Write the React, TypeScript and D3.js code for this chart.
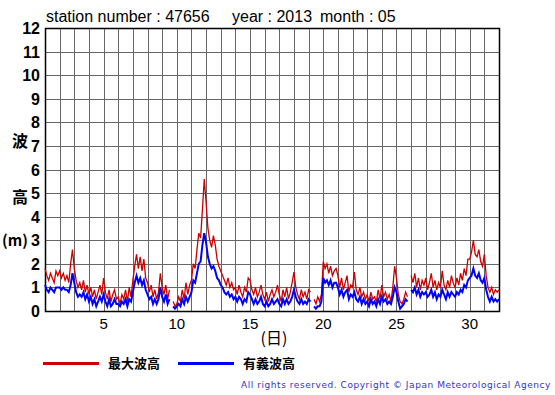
import React from "react";
import * as d3 from "d3";

// 3-hourly values, 8 per day, days 1..31 (null = missing)
const maxWave: (number | null)[] = [
  1.8, 1.5, 1.3, 1.6, 1.4, 1.2, 1.7, 1.5,
  1.7, 1.4, 1.6, 1.3, 1.5, 1.2, 2.0, 2.6,
  1.8, 1.3, 1.0, 1.2, 0.9, 1.3, 0.8, 1.1,
  0.7, 1.0, 0.6, 0.9, 0.5, 0.8, 1.1, 0.7,
  1.4, 0.8, 0.5, 0.9, 0.4, 0.7, 0.9, 0.5,
  0.6, 0.3, 0.7, 0.5, 0.9, 0.4, 1.0, 0.6,
  1.3, 1.9, 2.4, 1.8, 2.3, 1.7, 2.2, 1.4,
  1.2, 0.8, 1.1, 0.6, 0.9, 0.5, 0.8, 1.6,
  1.0, 0.7, 1.1, 0.5, 0.9, null, 0.4, 0.2,
  0.3, 0.6, 0.4, 0.9, 0.5, 1.2, 0.7, 1.1,
  1.3, 2.0, 1.8, 2.6, 3.3, 3.1, 4.3, 5.6,
  4.6, 3.5, 3.0, 2.7, 3.2, 2.8, 2.2, 1.9,
  1.7, 1.5, 1.3, 1.1, 1.4, 1.0, 1.2, 0.9,
  1.0, 0.7, 1.1, 0.8, 0.6, 1.0, 0.8, 1.4,
  1.3, 0.9, 0.7, 1.0, 0.6, 0.8, 1.1, 0.7,
  0.5, 0.8, 0.4, 0.7, 0.9, 0.6, 0.8, 1.1,
  0.7, 0.4, 0.9, 0.6, 1.0, 0.5, 0.8, 1.2,
  1.65, 1.0, 0.7, 0.5, 0.9, 0.6, 0.8, 0.5,
  0.9, 0.8, null, 0.5, 0.3, 0.6, 0.4, 0.7,
  2.1, 1.8, 2.0, 1.6, 1.9, 1.5, 1.7, 1.8,
  1.5, 1.0, 1.4, 0.9, 1.2, 1.5, 0.8, 1.1,
  1.0, 1.65, 0.9, 0.7, 1.0, 0.6, 0.8, 0.5,
  0.7, 0.4, 0.8, 0.5, 0.6, 0.4, 0.9, 0.5,
  1.1, 0.6, 0.8, 0.5, 0.7, 0.4, 1.0, 1.9,
  1.4, 0.7, 0.4, 0.3, 0.5, 0.8, 0.6, null,
  1.5, 1.2, 1.6, 1.0, 1.4, 0.9, 1.3, 1.1,
  1.4, 0.9, 1.2, 1.6, 1.0, 1.3, 0.9, 1.2,
  1.0, 1.7, 1.1, 0.9, 1.3, 1.0, 1.5, 1.2,
  1.0, 1.4, 1.1, 1.6, 1.3, 1.8, 1.5, 2.2,
  2.2, 2.5, 3.0, 2.4, 2.3, 2.6, 2.1, 1.9,
  2.4, 1.5, 1.0, 0.8, 1.0, 0.7, 0.9, 0.8,
  0.9,
];

const sigWave: (number | null)[] = [
  1.1, 0.9, 0.8, 1.0, 0.9, 0.8, 1.0, 1.0,
  1.0, 0.9, 1.0, 0.9, 0.9, 0.8, 1.1, 1.6,
  1.2, 0.8, 0.6, 0.7, 0.6, 0.8, 0.5, 0.7,
  0.4, 0.6, 0.3, 0.5, 0.2, 0.4, 0.6, 0.4,
  0.7, 0.4, 0.2, 0.5, 0.2, 0.3, 0.5, 0.3,
  0.3, 0.2, 0.4, 0.3, 0.5, 0.2, 0.5, 0.4,
  0.8, 1.2, 1.5, 1.2, 1.4, 1.1, 1.3, 0.9,
  0.7, 0.5, 0.6, 0.3, 0.5, 0.3, 0.5, 1.0,
  0.6, 0.4, 0.7, 0.3, 0.5, null, 0.2, 0.1,
  0.2, 0.3, 0.2, 0.5, 0.3, 0.6, 0.4, 0.6,
  0.8, 1.3, 1.2, 1.6, 2.0, 2.1, 2.8, 3.3,
  2.9, 2.3, 2.0, 1.8, 1.9, 1.7, 1.4, 1.3,
  1.1, 1.0, 0.8, 0.7, 0.8, 0.6, 0.7, 0.5,
  0.6, 0.4, 0.6, 0.5, 0.3, 0.5, 0.4, 0.8,
  0.7, 0.5, 0.3, 0.5, 0.3, 0.4, 0.6, 0.3,
  0.2, 0.4, 0.2, 0.3, 0.5, 0.3, 0.4, 0.5,
  0.3, 0.2, 0.5, 0.3, 0.5, 0.3, 0.4, 0.6,
  0.9, 0.6, 0.4, 0.3, 0.5, 0.3, 0.4, 0.3,
  0.5, 0.4, null, 0.2, 0.1, 0.2, 0.2, 0.4,
  1.4, 1.2, 1.3, 1.1, 1.3, 1.0, 1.2, 1.2,
  1.0, 0.7, 0.9, 0.6, 0.8, 0.9, 0.5, 0.7,
  0.6, 0.8, 0.5, 0.4, 0.6, 0.3, 0.5, 0.3,
  0.4, 0.2, 0.5, 0.3, 0.4, 0.2, 0.5, 0.3,
  0.6, 0.4, 0.5, 0.3, 0.4, 0.3, 0.6, 1.0,
  0.8, 0.4, 0.1, 0.2, 0.3, 0.5, 0.4, null,
  0.9, 0.8, 1.0, 0.7, 0.9, 0.6, 0.8, 0.7,
  0.8, 0.6, 0.7, 0.9, 0.6, 0.8, 0.5, 0.7,
  0.6, 0.9, 0.7, 0.5, 0.8, 0.6, 0.8, 0.7,
  0.6, 0.8, 0.7, 0.9, 0.8, 1.1, 1.0, 1.3,
  1.4, 1.5, 1.8, 1.5, 1.4, 1.6, 1.3, 1.2,
  1.4, 0.9, 0.6, 0.4, 0.6, 0.4, 0.5, 0.4,
  0.5,
];

const yTicks = [0, 1, 2, 3, 4, 5, 6, 7, 8, 9, 10, 11, 12];
const xTickLabels = [5, 10, 15, 20, 25, 30];
const dayLines = d3.range(1, 33);
const titleParts = ["station number : 47656", "year : 2013", "month : 05"];
const legendItems = [
  { label: "最大波高", color: "#cc0000" },
  { label: "有義波高", color: "#0000ff" },
];
const stepsPerDay = 8;

export default function App() {
  const left = 45, right = 499, top = 28, bottom = 311;
  const x = d3.scaleLinear().domain([1, 32]).range([left, right]);
  const y = d3.scaleLinear().domain([0, 12]).range([bottom, top]);

  const toPts = (arr: (number | null)[]) =>
    arr.map((v, i) => ({ t: 1 + i / stepsPerDay, v }));
  const line = d3
    .line<{ t: number; v: number | null }>()
    .defined((d) => d.v !== null)
    .x((d) => x(d.t))
    .y((d) => y(d.v as number));

  const sans = "'Liberation Sans', Arial, Helvetica, sans-serif";
  const cjk = "'Noto Sans CJK JP', sans-serif";

  return (
    <svg
      width={555}
      height={395}
      style={{ position: "absolute", left: 0, top: 0, background: "#fff" }}
    >
      {/* grid */}
      {dayLines.map((d) => (
        <line
          key={"v" + d}
          x1={Math.round(x(d)) + 0.5}
          x2={Math.round(x(d)) + 0.5}
          y1={top}
          y2={bottom}
          stroke="#666"
          strokeWidth={1}
        />
      ))}
      {yTicks.map((t) => (
        <line
          key={"h" + t}
          x1={left}
          x2={right}
          y1={Math.round(y(t)) + 0.5}
          y2={Math.round(y(t)) + 0.5}
          stroke="#666"
          strokeWidth={1}
        />
      ))}
      <rect
        x={left + 0.5}
        y={top + 0.5}
        width={right - left}
        height={bottom - top}
        fill="none"
        stroke="#000"
        strokeWidth={1.5}
      />

      {/* data */}
      <path d={line(toPts(maxWave)) || ""} fill="none" stroke="#cc0000" strokeWidth={1.3} />
      <path d={line(toPts(sigWave)) || ""} fill="none" stroke="#0000ff" strokeWidth={2} />

      {/* y tick labels */}
      {yTicks.map((t) => (
        <text
          key={"yl" + t}
          x={40}
          y={y(t) + 6}
          textAnchor="end"
          fontFamily={sans}
          fontWeight="bold"
          fontSize={16}
        >
          {t}
        </text>
      ))}
      {/* x tick labels */}
      {xTickLabels.map((t) => (
        <text
          key={"xl" + t}
          x={x(t)}
          y={329}
          textAnchor="middle"
          fontFamily={sans}
          fontSize={15}
        >
          {t}
        </text>
      ))}
      <text x={274} y={344} textAnchor="middle" fontFamily={cjk} fontSize={16}>
        (日)
      </text>

      {/* y axis title */}
      <text x={12} y={147} fontFamily={cjk} fontWeight="bold" fontSize={16}>波</text>
      <text x={12} y={203} fontFamily={cjk} fontWeight="bold" fontSize={16}>高</text>
      <text x={2} y={246} fontFamily={cjk} fontWeight="bold" fontSize={15}>(m)</text>

      {/* title */}
      <text x={46} y={22} fontFamily={sans} fontSize={16}>{titleParts[0]}</text>
      <text x={232} y={22} fontFamily={sans} fontSize={16}>{titleParts[1]}</text>
      <text x={320} y={22} fontFamily={sans} fontSize={16}>{titleParts[2]}</text>

      {/* legend */}
      {legendItems.map((it, i) => (
        <g key={it.label} transform={`translate(${43 + i * 135},0)`}>
          <line x1={0} x2={56} y1={363.5} y2={363.5} stroke={it.color} strokeWidth={3} />
          <text x={65} y={368} fontFamily={cjk} fontWeight="bold" fontSize={13}>
            {it.label}
          </text>
        </g>
      ))}

      <text
        x={551}
        y={388}
        textAnchor="end"
        fontFamily="'DejaVu Sans', sans-serif"
        fontSize={9}
        letterSpacing={0.55}
        fill="#3333cc"
      >
        All rights reserved. Copyright © Japan Meteorological Agency
      </text>
    </svg>
  );
}
